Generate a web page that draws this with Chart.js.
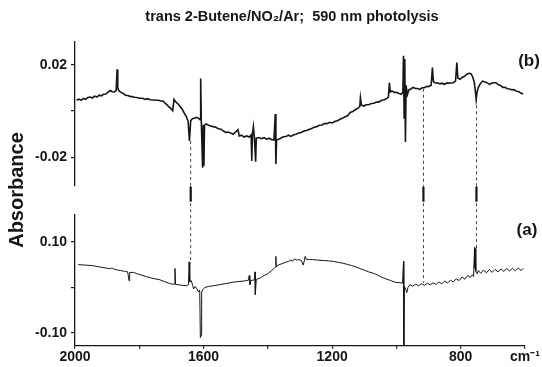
<!DOCTYPE html>
<html>
<head>
<meta charset="utf-8">
<script src="https://cdn.jsdelivr.net/npm/chart.js@4/dist/chart.umd.min.js"></script>
<style>
  html, body { margin: 0; padding: 0; background: #fff; }
</style>
</head>
<body>
<canvas id="spectrum" width="542" height="367"></canvas>
<script>
const FONT = "'Liberation Sans', Arial, sans-serif";
const INK = '#161616';
const TITLE = 'trans 2-Butene/NO\u2082/Ar;  590 nm photolysis';

// trace (b): difference spectrum, absorbance vs wavenumber (cm-1)
const upperWavenumbers = [
  1995, 1988, 1981, 1974, 1967, 1960, 1953, 1946, 1939, 1932, 1925, 1918, 1911, 1904, 1897, 1890,
  1884, 1878, 1872, 1869, 1867, 1864, 1857, 1850, 1843, 1836, 1829, 1822, 1815, 1808, 1798, 1790,
  1782, 1774, 1766, 1757, 1748, 1740, 1733, 1726, 1720, 1714, 1708, 1702, 1696, 1692, 1688, 1684,
  1678, 1672, 1666, 1660, 1654, 1648, 1644, 1640, 1634, 1628, 1622, 1616, 1611, 1609, 1607, 1603,
  1601, 1599, 1597, 1592, 1586, 1578, 1570, 1562, 1554, 1546, 1538, 1531, 1524, 1516, 1508, 1500,
  1493, 1489, 1482, 1474, 1466, 1458, 1452, 1450, 1448, 1445, 1442, 1438, 1436, 1428, 1420, 1412,
  1404, 1396, 1388, 1381, 1377, 1375, 1373, 1367, 1360, 1352, 1344, 1336, 1328, 1320, 1312, 1304,
  1296, 1288, 1280, 1272, 1264, 1256, 1248, 1240, 1232, 1224, 1216, 1208, 1200, 1192, 1184, 1176,
  1168, 1160, 1152, 1144, 1136, 1128, 1120, 1114, 1112, 1109, 1102, 1094, 1086, 1078, 1070, 1062,
  1054, 1046, 1038, 1030, 1025, 1022, 1019, 1014, 1006, 999, 992, 985, 980, 978, 976, 974,
  972, 970, 966, 961, 955, 948, 941, 934, 927, 920, 913, 906, 899, 892, 888, 885,
  879, 872, 865, 858, 851, 844, 837, 830, 823, 816, 812, 809, 802, 795, 788, 781,
  774, 768, 763, 758, 754, 752, 749, 745, 739, 732, 725, 718, 711, 704, 697, 690,
  683, 676, 669, 662, 655, 648, 641, 634, 627, 620, 613, 606
];
const upperAbsorbance = [
  0.0046, 0.0051, 0.0046, 0.0054, 0.0050, 0.0058, 0.0060, 0.0056, 0.0064, 0.0060, 0.0068, 0.0065, 0.0072, 0.0073, 0.0081, 0.0088,
  0.0083, 0.0082, 0.0088, 0.0180, 0.0100, 0.0088, 0.0080, 0.0076, 0.0068, 0.0067, 0.0063, 0.0062, 0.0059, 0.0058, 0.0055, 0.0055,
  0.0050, 0.0053, 0.0048, 0.0047, 0.0046, 0.0046, 0.0043, 0.0043, 0.0034, 0.0027, 0.0017, 0.0011, 0.0001, 0.0050, 0.0042, 0.0036,
  0.0028, 0.0017, 0.0006, -0.0010, -0.0024, -0.0045, -0.0130, -0.0042, -0.0033, -0.0032, -0.0028, -0.0031, -0.0038, 0.0140, -0.0048, -0.0246,
  -0.0060, -0.0238, -0.0062, -0.0056, -0.0061, -0.0065, -0.0068, -0.0071, -0.0077, -0.0079, -0.0087, -0.0093, -0.0091, -0.0095, -0.0101, -0.0091,
  -0.0081, -0.0108, -0.0105, -0.0113, -0.0108, -0.0113, -0.0104, -0.0216, -0.0100, -0.0068, -0.0114, -0.0220, -0.0118, -0.0115, -0.0120, -0.0116,
  -0.0122, -0.0118, -0.0124, -0.0125, -0.0013, -0.0230, -0.0126, -0.0123, -0.0118, -0.0112, -0.0111, -0.0105, -0.0110, -0.0103, -0.0101, -0.0095,
  -0.0093, -0.0087, -0.0085, -0.0080, -0.0076, -0.0071, -0.0068, -0.0062, -0.0061, -0.0055, -0.0055, -0.0049, -0.0052, -0.0046, -0.0043, -0.0036,
  -0.0032, -0.0025, -0.0021, -0.0007, -0.0003, 0.0005, 0.0011, 0.0020, 0.0057, 0.0026, 0.0021, 0.0027, 0.0027, 0.0032, 0.0033, 0.0038,
  0.0039, 0.0046, 0.0048, 0.0054, 0.0060, 0.0122, 0.0082, 0.0086, 0.0080, 0.0080, 0.0075, 0.0073, 0.0080, 0.0238, -0.0030, 0.0225,
  -0.0134, 0.0110, 0.0070, 0.0092, 0.0095, 0.0102, 0.0097, 0.0097, 0.0093, 0.0100, 0.0100, 0.0105, 0.0106, 0.0111, 0.0187, 0.0127,
  0.0121, 0.0122, 0.0117, 0.0120, 0.0115, 0.0120, 0.0120, 0.0121, 0.0122, 0.0130, 0.0209, 0.0142, 0.0137, 0.0146, 0.0150, 0.0159,
  0.0163, 0.0161, 0.0148, 0.0125, 0.0080, 0.0050, 0.0082, 0.0102, 0.0118, 0.0129, 0.0125, 0.0122, 0.0115, 0.0120, 0.0122, 0.0122,
  0.0113, 0.0110, 0.0102, 0.0102, 0.0096, 0.0095, 0.0092, 0.0091, 0.0085, 0.0084, 0.0077, 0.0073
];

// trace (a)
const lowerWavenumbers = [
  1990, 1978, 1966, 1954, 1943, 1932, 1920, 1910, 1900, 1890, 1885, 1880, 1870, 1858, 1846, 1836,
  1832, 1830, 1818, 1806, 1792, 1777, 1762, 1748, 1736, 1722, 1710, 1700, 1691, 1689, 1687, 1676,
  1664, 1653, 1647, 1645, 1643, 1638, 1634, 1631, 1626, 1621, 1616, 1612, 1610, 1608, 1606, 1601,
  1596, 1584, 1570, 1550, 1528, 1508, 1490, 1472, 1460, 1458, 1456, 1453, 1442, 1440, 1439, 1436,
  1424, 1412, 1400, 1390, 1380, 1376, 1375, 1374, 1366, 1356, 1346, 1336, 1328, 1323, 1317, 1310,
  1304, 1296, 1290, 1286, 1284, 1281, 1270, 1261, 1245, 1228, 1212, 1196, 1180, 1166, 1153, 1140,
  1126, 1112, 1099, 1086, 1072, 1058, 1045, 1032, 1018, 1002, 989, 981, 978, 977, 975, 971,
  968, 964, 958, 949, 940, 931, 922, 913, 904, 895, 886, 877, 868, 859, 850, 841,
  832, 823, 814, 805, 796, 787, 778, 770, 764, 760, 757, 756, 755, 753, 749, 745,
  738, 729, 720, 711, 702, 693, 684, 675, 666, 657, 648, 639, 630, 621, 612, 605
];
const lowerAbsorbance = [
  0.0500, 0.0495, 0.0488, 0.0482, 0.0475, 0.0460, 0.0445, 0.0432, 0.0420, 0.0410, 0.0430, 0.0405, 0.0385, 0.0370, 0.0352, 0.0340,
  0.0147, 0.0330, 0.0328, 0.0298, 0.0270, 0.0234, 0.0205, 0.0185, 0.0168, 0.0128, 0.0098, 0.0074, 0.0070, 0.0416, 0.0066, 0.0055,
  0.0045, 0.0037, 0.0060, 0.0560, 0.0120, 0.0147, 0.0040, -0.0035, 0.0020, -0.0030, -0.0100, -0.0060, -0.1100, -0.1050, -0.0100, -0.0040,
  0.0000, 0.0020, 0.0037, 0.0060, 0.0088, 0.0115, 0.0130, 0.0142, 0.0160, 0.0260, 0.0060, 0.0150, 0.0165, 0.0340, -0.0155, 0.0175,
  0.0205, 0.0260, 0.0300, 0.0360, 0.0420, 0.0450, 0.0680, 0.0460, 0.0495, 0.0520, 0.0550, 0.0570, 0.0600, 0.0575, 0.0625, 0.0600,
  0.0610, 0.0590, 0.0490, 0.0600, 0.0680, 0.0620, 0.0612, 0.0610, 0.0600, 0.0590, 0.0582, 0.0570, 0.0548, 0.0530, 0.0505, 0.0480,
  0.0450, 0.0410, 0.0376, 0.0340, 0.0310, 0.0270, 0.0222, 0.0185, 0.0150, 0.0110, 0.0105, 0.0090, 0.0570, -0.1270, 0.0020, -0.0040,
  -0.0116, 0.0000, 0.0060, 0.0025, 0.0070, 0.0035, 0.0082, 0.0045, 0.0092, 0.0055, 0.0102, 0.0065, 0.0118, 0.0082, 0.0135, 0.0100,
  0.0155, 0.0120, 0.0188, 0.0150, 0.0228, 0.0180, 0.0265, 0.0220, 0.0275, 0.0240, 0.0875, 0.0420, 0.0850, 0.0350, 0.0300, 0.0370,
  0.0310, 0.0380, 0.0320, 0.0390, 0.0330, 0.0395, 0.0340, 0.0405, 0.0350, 0.0415, 0.0360, 0.0420, 0.0365, 0.0425, 0.0370, 0.0420
];

// bands marked with the dashed guides and bars between the panels
const guideWavenumbers = [1640, 916, 751];
const guideUpperFrom = [-0.0130, 0.0096, 0.0050];
const guideLowerTo = [0.0560, 0.0100, 0.0850];

const xTickValues = [2000, 1800, 1600, 1400, 1200, 1000, 800, 600];
const xTickLabels = ['2000', '', '1600', '', '1200', '', '800', 'cm\u207B\u00B9'];
const upperTickValues = [-0.02, 0, 0.02];
const upperTickLabels = ['-0.02', '', '0.02'];
const lowerTickValues = [-0.10, 0, 0.10];
const lowerTickLabels = ['-0.10', '', '0.10'];

const UPPER_MIN = -0.0321, UPPER_MAX = 0.0298;
const LOWER_MIN = -0.1278, LOWER_MAX = 0.1585;

function pairs(xs, ys) {
    return xs.map((x, i) => ({ x: x, y: ys[i] }));
}

function lineSet(data, axis, width, dash) {
    return {
        data: data,
        yAxisID: axis,
        borderColor: INK,
        borderWidth: width,
        borderDash: dash || [],
        pointRadius: 0,
        tension: 0,
        fill: false
    };
}

const datasets = [
    lineSet(pairs(upperWavenumbers, upperAbsorbance), 'yB', 1.6),
    lineSet(pairs(lowerWavenumbers, lowerAbsorbance), 'yA', 1)
];

guideWavenumbers.forEach((w, i) => {
    datasets.push(lineSet([{ x: w, y: guideUpperFrom[i] }, { x: w, y: UPPER_MIN }], 'yB', 0.8, [3, 3]));
    datasets.push(lineSet([{ x: w, y: 1 }, { x: w, y: 0 }], 'yGap', 0.8, [3, 3]));
    datasets.push(lineSet([{ x: w, y: 0.95 }, { x: w, y: 0.45 }], 'yGap', 2.2));
    datasets.push(lineSet([{ x: w, y: LOWER_MAX }, { x: w, y: guideLowerTo[i] }], 'yA', 0.8, [3, 3]));
});

const tickFont = { family: FONT, size: 14, weight: 'bold' };

function yAxis(min, max, values, labels, weight, stackWeight) {
    return {
        type: 'linear',
        position: 'left',
        stack: 'panels',
        stackWeight: stackWeight,
        weight: weight,
        min: min,
        max: max,
        afterBuildTicks: s => { s.ticks = values.map(v => ({ value: v })); },
        afterFit: s => { s.width = 75; },
        grid: { drawOnChartArea: false, tickLength: 4, color: INK, lineWidth: 1.2 },
        border: { color: INK, width: 1.3 },
        ticks: {
            color: INK,
            font: tickFont,
            padding: 4,
            autoSkip: false,
            callback: (v, i) => labels[i]
        }
    };
}

// title, panel letters and the shared axis name
const panelText = {
    id: 'panelText',
    afterDraw(chart) {
        const ctx = chart.ctx;
        ctx.save();
        ctx.fillStyle = INK;
        ctx.textAlign = 'center';
        ctx.textBaseline = 'middle';
        ctx.font = 'bold 14.5px ' + FONT;
        ctx.fillText(TITLE, 292, 17);
        ctx.font = 'bold 17px ' + FONT;
        ctx.fillText('(b)', 529, 61);
        ctx.fillText('(a)', 527, 230);
        ctx.translate(17, 190);
        ctx.rotate(-Math.PI / 2);
        ctx.font = 'bold 20px ' + FONT;
        ctx.fillText('Absorbance', 0, 0);
        ctx.restore();
    }
};

const config = {
    type: 'line',
    data: { datasets: datasets },
    options: {
        responsive: false,
        animation: false,
        events: [],
        layout: { padding: { left: 0, right: 0, top: 42, bottom: 0 } },
        plugins: {
            legend: { display: false },
            tooltip: { enabled: false },
            title: { display: false }
        },
        scales: {
            x: {
                type: 'linear',
                position: 'bottom',
                reverse: true,
                min: 600,
                max: 2000,
                afterBuildTicks: s => { s.ticks = xTickValues.map(v => ({ value: v })); },
                afterFit: s => { s.height = 21.3; s.paddingRight = 17; },
                grid: { drawOnChartArea: false, tickLength: 3, color: INK, lineWidth: 1.2 },
                border: { color: INK, width: 1.3 },
                ticks: {
                    color: INK,
                    font: tickFont,
                    padding: 0,
                    maxRotation: 0,
                    autoSkip: false,
                    callback: (v, i) => xTickLabels[i]
                }
            },
            yB: yAxis(UPPER_MIN, UPPER_MAX, upperTickValues, upperTickLabels, 3, 143.3),
            yGap: {
                type: 'linear',
                position: 'left',
                stack: 'panels',
                stackWeight: 30,
                weight: 2,
                min: 0,
                max: 1,
                afterFit: s => { s.width = 75; },
                grid: { display: false },
                border: { display: false },
                ticks: { display: false }
            },
            yA: yAxis(LOWER_MIN, LOWER_MAX, lowerTickValues, lowerTickLabels, 1, 130.7)
        }
    },
    plugins: [panelText]
};

const chart = new Chart(document.getElementById('spectrum'), config);
</script>
</body>
</html>
